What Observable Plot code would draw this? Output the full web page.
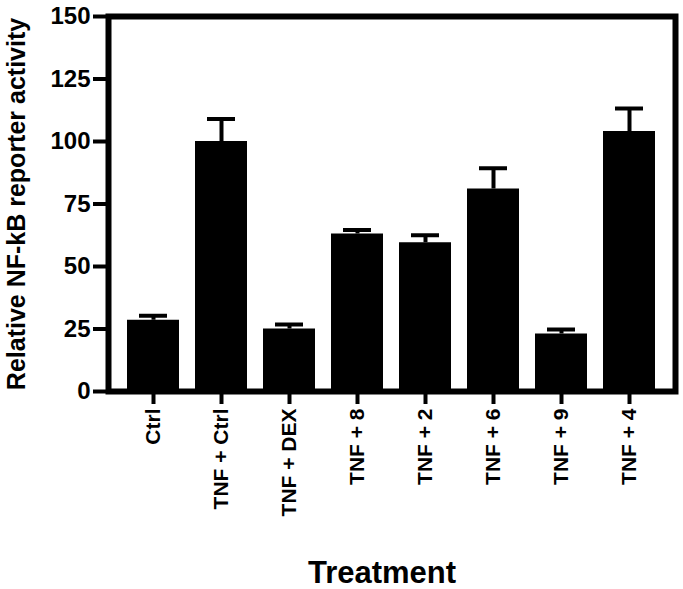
<!DOCTYPE html>
<html>
<head>
<meta charset="utf-8">
<script src="https://cdn.jsdelivr.net/npm/d3@7"></script>
<script src="https://cdn.jsdelivr.net/npm/@observablehq/plot@0.6"></script>
<style>
  html, body { margin: 0; padding: 0; background: #fff; }
  svg { display: block; }
</style>
</head>
<body>
<div id="chart"></div>
<script>
const categories = ["Ctrl", "TNF + Ctrl", "TNF + DEX", "TNF + 8", "TNF + 2", "TNF + 6", "TNF + 9", "TNF + 4"];
const means = [28.5, 100, 25, 63, 59.5, 81, 23, 104];
const errors = [1.8, 9, 1.8, 1.6, 3, 8.3, 1.8, 9.2];
const yTicks = [0, 25, 50, 75, 100, 125, 150];
const yTitle = "Relative NF-kB reporter activity";
const xTitle = "Treatment";

const data = categories.map((c, i) => ({cat: c, mean: means[i], err: errors[i], top: means[i] + errors[i]}));
const font = "'Liberation Sans', Arial, Helvetica, sans-serif";

const chart = Plot.plot({
  width: 683,
  height: 589,
  marginTop: 16,
  marginLeft: 108,
  marginRight: 8,
  marginBottom: 198,
  style: {fontFamily: font, background: "#fff", color: "#000"},
  x: {domain: categories, paddingInner: 0.235, paddingOuter: 0.279, label: null},
  y: {domain: [0, 150], label: null},
  marks: [
    Plot.ruleX(data, {x: "cat", y1: "mean", y2: "top", stroke: "#000", strokeWidth: 4}),
    Plot.tickY(data, {x: "cat", y: "top", stroke: "#000", strokeWidth: 4, inset: 12}),
    Plot.barY(data, {x: "cat", y: "mean", fill: "#000"}),
    Plot.frame({stroke: "#000", strokeWidth: 6}),
    Plot.axisY({ticks: yTicks, tickSize: 15, tickPadding: 3, strokeWidth: 4, fontSize: 24, fontWeight: "bold", label: null}),
    Plot.axisX({tickSize: 13, tickPadding: 4, strokeWidth: 4, tickRotate: -90, fontSize: 21, fontWeight: "bold", label: null}),
    Plot.text([yTitle], {frameAnchor: "left", textAnchor: "middle", rotate: -90, dx: -92, dy: 0, fontSize: 25, fontWeight: "bold", fill: "#000"}),
    Plot.text([xTitle], {frameAnchor: "bottom", dx: -10, dy: 182, lineAnchor: "middle", fontSize: 31, fontWeight: "bold", fill: "#000"})
  ]
});
document.getElementById("chart").appendChild(chart);
</script>
</body>
</html>
